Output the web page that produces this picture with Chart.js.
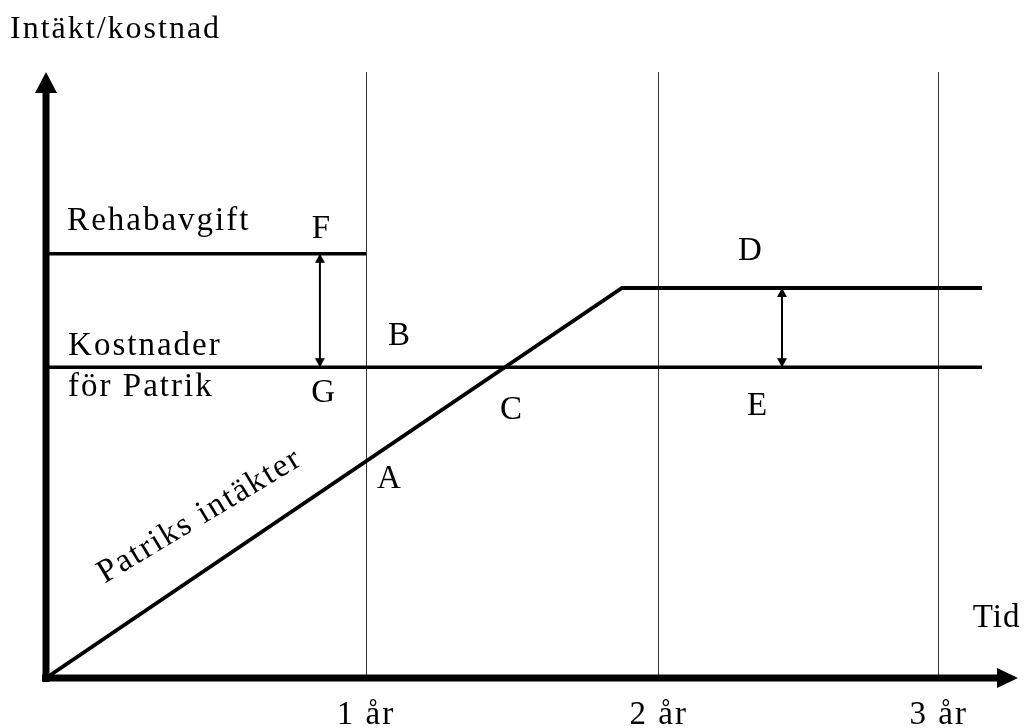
<!DOCTYPE html>
<html>
<head>
<meta charset="utf-8">
<script src="https://cdn.jsdelivr.net/npm/chart.js@4/dist/chart.umd.min.js"></script>
<style>
  html, body { margin: 0; padding: 0; background: #fff; }
  #wrap { width: 1025px; height: 728px; }
</style>
</head>
<body>
<div id="wrap"><canvas id="c" width="1025" height="728"></canvas></div>
<script>
// ---- data ----
const yearTicks  = [1, 1.915, 2.79];
const yearLabels = ['1 år', '2 år', '3 år'];

const feeX    = [0, 1.0];          // Rehabavgift
const feeY    = [136.5, 136.5];
const costX   = [0, 2.925];        // Kostnader för Patrik
const costY   = [100, 100];
const incomeX = [0, 1.8, 2.925];   // Patriks intäkter
const incomeY = [0, 125.5, 125.5];

const gapFGX = [0.856, 0.856];     // arrow F–G
const gapFGY = [136.5, 100];
const gapDEX = [2.3, 2.3];         // arrow D–E
const gapDEY = [125.5, 100];

const letterNames = ['F', 'B', 'G', 'C', 'A', 'D', 'E'];
const letterX     = [0.859, 1.103, 0.866, 1.453, 1.072, 2.2, 2.222];
const letterY     = [141.6, 107.1, 88.8, 83.3, 61.1, 134.5, 84.6];

const xMax = 3.0;
const yMax = 195;

const toPts = (xs, ys) => xs.map((v, i) => ({ x: v, y: ys[i] }));

const FONT = "'Liberation Serif', 'Times New Roman', serif";

function makeArrowHead() {
  const c = document.createElement('canvas');
  c.width = 12; c.height = 20;
  const g = c.getContext('2d');
  g.fillStyle = '#000';
  g.beginPath();
  g.moveTo(6, 10); g.lineTo(11, 19); g.lineTo(1, 19);
  g.closePath(); g.fill();
  return c;
}
const head = makeArrowHead();

const spacing = {
  id: 'spacing',
  beforeDraw(chart) { chart.ctx.letterSpacing = '2px'; },
  beforeDatasetsDraw(chart) { chart.ctx.letterSpacing = '0px'; }
};

const annot = {
  id: 'annot',
  afterDatasetsDraw(chart) {
    const { ctx, chartArea: a, scales: { x, y } } = chart;
    const X0 = x.getPixelForValue(0), Y0 = y.getPixelForValue(0);
    ctx.save();
    ctx.fillStyle = '#000';
    ctx.strokeStyle = '#000';
    ctx.lineCap = 'butt';
    ctx.lineWidth = 7;
    // y axis with arrow
    ctx.beginPath(); ctx.moveTo(X0, Y0 + 4); ctx.lineTo(X0, a.top + 19); ctx.stroke();
    ctx.beginPath();
    ctx.moveTo(X0 - 11, a.top + 21); ctx.lineTo(X0 + 11, a.top + 21); ctx.lineTo(X0, a.top);
    ctx.closePath(); ctx.fill();
    // x axis with arrow
    const tip = a.right + 12;
    ctx.beginPath(); ctx.moveTo(X0 - 4, Y0); ctx.lineTo(tip - 19, Y0); ctx.stroke();
    ctx.beginPath();
    ctx.moveTo(tip - 21, Y0 - 10); ctx.lineTo(tip - 21, Y0 + 10); ctx.lineTo(tip, Y0);
    ctx.closePath(); ctx.fill();

    // texts
    ctx.font = '33px ' + FONT;
    ctx.textBaseline = 'alphabetic';
    ctx.letterSpacing = '2px';
    ctx.textAlign = 'left';
    const put = (t, vx, vy) => ctx.fillText(t, x.getPixelForValue(vx), y.getPixelForValue(vy));
    put('Rehabavgift', 0.066, 144);
    put('Kostnader', 0.069, 104);
    put('för Patrik', 0.069, 90.6);
    ctx.letterSpacing = '1px';
    put('Tid', 2.896, 16.4);
    ctx.letterSpacing = '0px';
    ctx.textAlign = 'center';
    letterNames.forEach((n, i) => put(n, letterX[i], letterY[i]));

    // rotated label along the income line
    ctx.save();
    ctx.translate(x.getPixelForValue(0.481), y.getPixelForValue(52.1));
    ctx.rotate(-31 * Math.PI / 180);
    ctx.textAlign = 'center';
    ctx.textBaseline = 'middle';
    ctx.letterSpacing = '2px';
    ctx.fillText('Patriks intäkter', 0, 0);
    ctx.restore();

    ctx.restore();
  }
};

const lineDs = (label, xs, ys, w) => ({
  label, data: toPts(xs, ys),
  borderColor: '#000', borderWidth: w,
  pointRadius: 0, borderCapStyle: 'butt', borderJoinStyle: 'miter',
  tension: 0, fill: false
});
const arrowDs = (label, xs, ys) => ({
  label, data: toPts(xs, ys),
  borderColor: '#000', borderWidth: 2,
  pointStyle: head, pointRotation: [0, 180], pointRadius: 5,
  pointBackgroundColor: '#000', pointBorderColor: '#000',
  tension: 0, fill: false
});

new Chart(document.getElementById('c'), {
  type: 'line',
  data: {
    datasets: [
      lineDs('Rehabavgift', feeX, feeY, 3.6),
      lineDs('Kostnader för Patrik', costX, costY, 3.6),
      lineDs('Patriks intäkter', incomeX, incomeY, 3.8),
      arrowDs('F–G', gapFGX, gapFGY),
      arrowDs('D–E', gapDEX, gapDEY)
    ]
  },
  options: {
    responsive: false,
    animation: false,
    events: [],
    layout: { padding: { left: 10, right: 19, top: 0, bottom: 0 } },
    plugins: {
      legend: { display: false },
      tooltip: { enabled: false },
      title: {
        display: true,
        text: 'Intäkt/kostnad',
        align: 'start',
        color: '#000',
        font: { family: FONT, size: 32, weight: 'normal', lineHeight: 1.2 },
        padding: { top: 10, bottom: 23.6 }
      }
    },
    scales: {
      x: {
        type: 'linear',
        min: 0, max: xMax,
        z: 1,
        afterBuildTicks: (axis) => { axis.ticks = yearTicks.map(v => ({ value: v })); },
        afterFit: (s) => { s.height = 50; },
        ticks: {
          autoSkip: false, maxRotation: 0, minRotation: 0,
          color: '#000',
          padding: 23.7,
          font: { family: FONT, size: 33, lineHeight: 0.8 },
          callback: (v, i) => yearLabels[i]
        },
        grid: { display: true, drawTicks: false, color: '#333', lineWidth: 1 },
        border: { display: false }
      },
      y: {
        type: 'linear',
        min: 0, max: yMax,
        ticks: { display: false },
        grid: { display: false, drawTicks: false },
        border: { display: false },
        afterFit: (s) => { s.width = 36; }
      }
    }
  },
  plugins: [spacing, annot]
});
</script>
</body>
</html>
